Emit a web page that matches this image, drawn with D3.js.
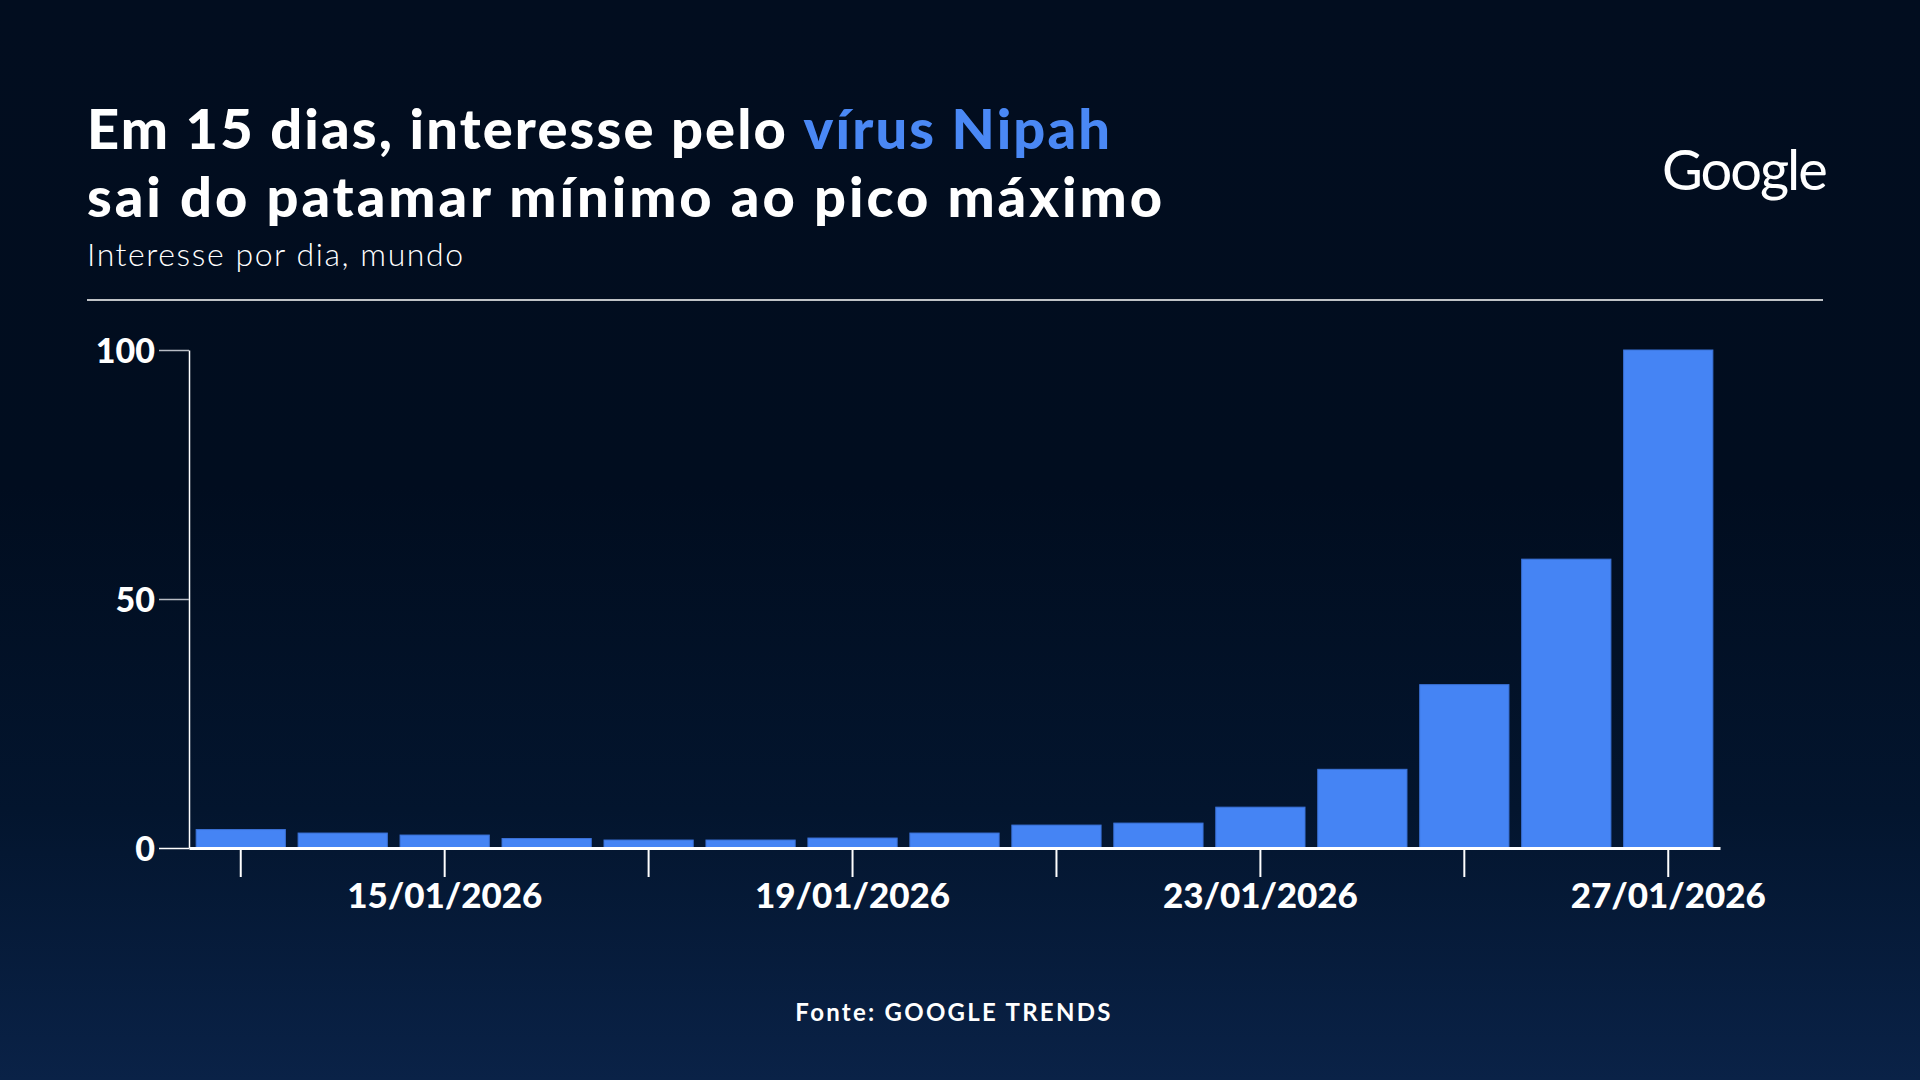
<!DOCTYPE html>
<html>
<head>
<meta charset="utf-8">
<script src="https://cdn.jsdelivr.net/npm/d3@7"></script>
<style>
  html, body { margin: 0; padding: 0; background: #010d1f; }
  svg { display: block; }
  text { font-family: Lato, "Open Sans", sans-serif; }
</style>
</head>
<body>
<svg id="chart" width="1920" height="1080"></svg>
<script>
// ---- data ----
const dates = ["13/01/2026","14/01/2026","15/01/2026","16/01/2026","17/01/2026","18/01/2026","19/01/2026",
               "20/01/2026","21/01/2026","22/01/2026","23/01/2026","24/01/2026","25/01/2026","26/01/2026","27/01/2026"];
const values = [3.7, 3.0, 2.6, 1.9, 1.6, 1.6, 2.0, 3.0, 4.6, 5.0, 8.2, 15.8, 32.8, 58, 100];
const yTickValues = [0, 50, 100];
const xTickDates = ["13/01/2026","15/01/2026","17/01/2026","19/01/2026","21/01/2026","23/01/2026","25/01/2026","27/01/2026"];
const xLabelDates = ["15/01/2026","19/01/2026","23/01/2026","27/01/2026"];
const titleLine1 = ["Em 15 dias, interesse pelo ", "vírus Nipah"];
const titleLine2 = "sai do patamar mínimo ao pico máximo";
const subtitle = "Interesse por dia, mundo";
const source = "Fonte: GOOGLE TRENDS";
const brand = "Google";

const svg = d3.select("#chart");
const W = 1920, H = 1080;

// background gradient
const defs = svg.append("defs");
const grad = defs.append("linearGradient").attr("id","bg").attr("x1",0).attr("y1",0).attr("x2",0).attr("y2",1);
grad.append("stop").attr("offset","0%").attr("stop-color","#020d1f");
grad.append("stop").attr("offset","45%").attr("stop-color","#010d1f");
grad.append("stop").attr("offset","75%").attr("stop-color","#03152e");
grad.append("stop").attr("offset","100%").attr("stop-color","#0a2247");
svg.append("rect").attr("width",W).attr("height",H).attr("fill","url(#bg)");

// widen a text to a target width with letter-spacing (keeps font size)
function spread(node, target) {
  const w = node.getComputedTextLength();
  const n = node.textContent.length;
  if (w > 0 && n > 1) {
    const ls = Math.max(-2, (target - w) / (n - 1));
    d3.select(node).attr("letter-spacing", ls.toFixed(2));
  }
}

const TITLE_FS = 56;
// title line 1: two separate text elements (white + blue)
const tA = svg.append("text").attr("x", 87).attr("y", 149).attr("font-size", TITLE_FS)
  .attr("font-weight", 900).attr("fill", "#ffffff")
  .style("white-space", "pre").text(titleLine1[0]);
const tB = svg.append("text").attr("y", 149).attr("font-size", TITLE_FS)
  .attr("font-weight", 900).attr("fill", "#4a88f5").text(titleLine1[1]);
(function() {
  const wA = tA.node().getComputedTextLength();
  const wB = tB.node().getComputedTextLength();
  const n = titleLine1[0].length + titleLine1[1].length;
  const ls = (1023 - wA - wB) / (n - 1);
  tA.attr("letter-spacing", ls.toFixed(2));
  tB.attr("letter-spacing", ls.toFixed(2));
  tB.attr("x", 87 + wA + ls * titleLine1[0].length);
})();

const t2 = svg.append("text").attr("x", 87).attr("y", 216.5).attr("font-size", TITLE_FS)
  .attr("font-weight", 900).attr("fill", "#ffffff").text(titleLine2);
spread(t2.node(), 1075);

const st = svg.append("text").attr("x", 87).attr("y", 266).attr("font-size", 32)
  .attr("font-weight", 300).attr("fill", "#ffffff").text(subtitle);
spread(st.node(), 376);

// brand
const g = svg.append("text").attr("x", 1662).attr("y", 190)
  .attr("font-size", 56).attr("font-weight", 400).attr("fill", "#ffffff")
  .attr("font-family", "'Open Sans', Lato, sans-serif").text(brand);
spread(g.node(), 161);

// rule
svg.append("line").attr("x1", 87).attr("x2", 1823).attr("y1", 300).attr("y2", 300)
  .attr("stroke", "#ffffff").attr("stroke-width", 1.5);

// scales
const x = d3.scaleBand().domain(dates).range([189, 1720]).paddingInner(0.125).paddingOuter(0.07);
const y = d3.scaleLinear().domain([0, 100]).range([848, 350]);

// bars
svg.append("g").selectAll("rect").data(values).join("rect")
  .attr("x", (d, i) => x(dates[i]))
  .attr("width", x.bandwidth())
  .attr("y", d => y(d))
  .attr("height", d => y(0) - y(d))
  .attr("fill", "#4584f4")
  .attr("stroke", "#3b72d8")
  .attr("stroke-width", 1);

// y axis
const yAxis = svg.append("g").attr("transform", "translate(189,0)")
  .call(d3.axisLeft(y).tickValues(yTickValues).tickSize(30).tickSizeOuter(0).tickPadding(4));
yAxis.select(".domain").attr("stroke", "#ffffff").attr("stroke-width", 1.5);
yAxis.selectAll(".tick line").attr("stroke", d => d === 0 ? "#ffffff" : "#b8bcc4").attr("stroke-width", 1.5);
yAxis.selectAll(".tick text").attr("fill", "#ffffff").attr("font-size", 34).attr("font-weight", 900)
  .attr("font-family", "Lato, sans-serif").attr("dy", "0.36em");

// x axis
const xAxis = svg.append("g").attr("transform", "translate(0,848)")
  .call(d3.axisBottom(x).tickValues(xTickDates).tickSize(29).tickSizeOuter(0).tickPadding(6)
    .tickFormat(d => xLabelDates.includes(d) ? d : ""));
xAxis.select(".domain").attr("stroke", "#ffffff").attr("stroke-width", 3);
xAxis.selectAll(".tick line").attr("stroke", "#ffffff").attr("stroke-width", 2);
xAxis.selectAll(".tick text").attr("fill", "#ffffff").attr("font-size", 35).attr("font-weight", 900)
  .attr("font-family", "Lato, sans-serif");
xAxis.selectAll(".tick text").each(function() { if (this.textContent) spread(this, 195); });

// source
const src = svg.append("text").attr("x", 954).attr("y", 1021).attr("text-anchor", "middle")
  .attr("font-size", 24).attr("font-weight", 700).attr("fill", "#ffffff").text(source);
spread(src.node(), 315);
</script>
</body>
</html>
